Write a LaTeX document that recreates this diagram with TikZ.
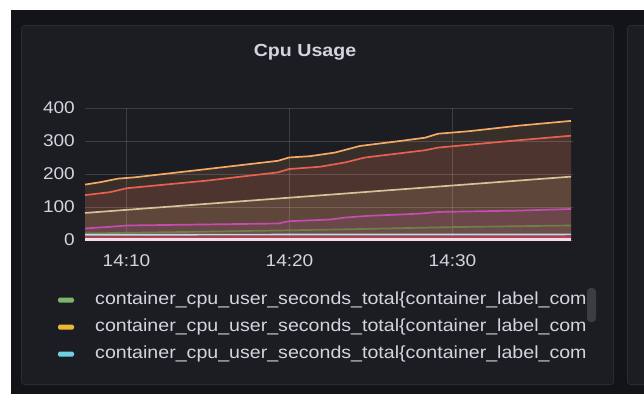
\documentclass[tikz,border=0pt]{standalone}
\usepackage{fontspec}
\setmainfont{Liberation Sans}
\newfontfamily\gf[FakeStretch=1.12]{Liberation Sans}
\definecolor{outerbg}{HTML}{131418}
\definecolor{panelbg}{HTML}{1C1D22}
\definecolor{panelbd}{HTML}{2A2B30}
\definecolor{txt}{HTML}{D4D5DC}
\definecolor{sOrange}{HTML}{F6A865}
\definecolor{sRed}{HTML}{E8604F}
\definecolor{sBeige}{HTML}{D2C496}
\definecolor{sMag}{HTML}{C24FB0}
\definecolor{sOlive}{HTML}{6E8048}
\definecolor{sLight}{HTML}{C8D4EC}
\definecolor{sDRed}{HTML}{B8404C}
\definecolor{sPink}{HTML}{F6DCEA}
\definecolor{lgGreen}{HTML}{7EB26D}
\definecolor{lgYellow}{HTML}{EAB839}
\definecolor{lgCyan}{HTML}{6ED0E0}
\definecolor{scrollc}{HTML}{3C3D43}
\begin{document}
\begin{tikzpicture}[x=1pt,y=-1pt,
  ticklab/.style={text=txt, font=\gf\fontsize{17}{19}\selectfont, inner sep=0pt},
  legtext/.style={text=txt, font=\gf\fontsize{17.5}{20}\selectfont, inner sep=0pt, anchor=west},
  swatch/.style={rectangle, rounded corners=1.5pt, minimum width=16pt, minimum height=5pt, inner sep=0pt},
  gridln/.style={draw=white, opacity=0.15, line width=0.9pt},
  series/.style={line width=1.7pt, line join=round},
  areafill/.style={fill opacity=0.13}]
\useasboundingbox (0,0) rectangle (644,394);
\clip (0,0) rectangle (644,394);
\fill[white] (0,0) rectangle (644,394);
\fill[outerbg] (11,10) rectangle (644,394);
% panels
\draw[panelbd, fill=panelbg, rounded corners=3pt, line width=0.8pt] (21.5,25.5) rectangle (613.5,384.5);
\draw[panelbd, fill=panelbg, rounded corners=3pt, line width=0.8pt] (627.5,25.5) rectangle (670,384.5);
% title
\node (title) [text=txt, font=\gf\fontsize{17.5}{20}\selectfont\bfseries, inner sep=0pt] at (305,52) {Cpu Usage};
% chart
\begin{scope}[shift={(0,240)}, yscale=-0.33]
  % fills
  \fill[sOrange, areafill] (85,0) -- (85,168) -- (100,175) -- (118,186) -- (135,190) -- (207,215) -- (278,240) -- (289,250) -- (310,254) -- (335,265) -- (360,285) -- (400,300) -- (425,310) -- (438,322) -- (470,330) -- (517,346) -- (571,361) -- (571,0) -- cycle;
  \fill[sRed, areafill] (85,0) -- (85,136) -- (110,145) -- (127,157) -- (207,180) -- (278,205) -- (289,215) -- (320,222) -- (345,235) -- (365,250) -- (425,272) -- (438,280) -- (517,302) -- (571,316) -- (571,0) -- cycle;
  \fill[sBeige, areafill] (85,0) -- (85,82) -- (571,192) -- (571,0) -- cycle;
  \fill[sMag, areafill] (85,0) -- (85,35) -- (110,40) -- (127,44) -- (278,50) -- (289,57) -- (330,62) -- (345,68) -- (367,73) -- (420,80) -- (438,85) -- (517,89) -- (571,94) -- (571,0) -- cycle;
  \fill[sOlive, areafill] (85,0) -- (85,20) -- (200,25) -- (340,32) -- (450,39) -- (571,44) -- (571,0) -- cycle;
  % grid
  \foreach \v in {0,100,200,300,400} { \draw[gridln] (85,\v) -- (573,\v); }
  \foreach \gx in {126.5,289.5,452.5} { \draw[gridln] (\gx,0) -- (\gx,400); }
  % lines
  \draw[series, sOrange] (85,168) -- (100,175) -- (118,186) -- (135,190) -- (207,215) -- (278,240) -- (289,250) -- (310,254) -- (335,265) -- (360,285) -- (400,300) -- (425,310) -- (438,322) -- (470,330) -- (517,346) -- (571,361);
  \draw[series, sRed] (85,136) -- (110,145) -- (127,157) -- (207,180) -- (278,205) -- (289,215) -- (320,222) -- (345,235) -- (365,250) -- (425,272) -- (438,280) -- (517,302) -- (571,316);
  \draw[series, sBeige] (85,82) -- (571,192);
  \draw[series, sMag] (85,35) -- (110,40) -- (127,44) -- (278,50) -- (289,57) -- (330,62) -- (345,68) -- (367,73) -- (420,80) -- (438,85) -- (517,89) -- (571,94);
  \draw[series, sOlive] (85,20) -- (200,25) -- (340,32) -- (450,39) -- (571,44);
  \draw[series, sLight] (85,16) -- (571,17);
  \draw[series, sDRed] (85,8) -- (571,9);
  \draw[line width=2.4pt, sPink] (85,1.5) -- (571,1.5);
  % axis labels
  \foreach \v in {0,100,200,300,400} { \node[ticklab, anchor=east] (y\v) at (75,\v) {\v}; }
\end{scope}
\node[ticklab] (x1410) at (126.5,261) {14:10};
\node[ticklab] (x1420) at (289.5,261) {14:20};
\node[ticklab] (x1430) at (452.5,261) {14:30};
% legend
\node[swatch, fill=lgGreen] (sw1) at (66,300) {};
\node[legtext] (lg1) at (95,300) {container\_cpu\_user\_seconds\_total\{container\_label\_com};
\node[swatch, fill=lgYellow] (sw2) at (66,327) {};
\node[legtext] (lg2) at (95,327) {container\_cpu\_user\_seconds\_total\{container\_label\_com};
\node[swatch, fill=lgCyan] (sw3) at (66,354) {};
\node[legtext] (lg3) at (95,354) {container\_cpu\_user\_seconds\_total\{container\_label\_com};
% scrollbar
\fill[scrollc, rounded corners=3.5pt] (587,288) rectangle (596,322);
\end{tikzpicture}
\end{document}
